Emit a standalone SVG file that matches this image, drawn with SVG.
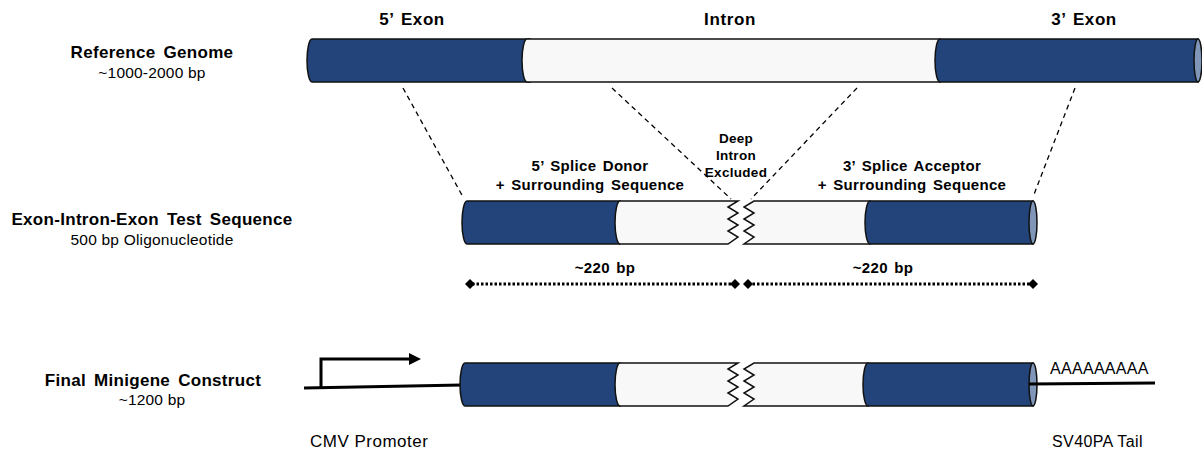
<svg xmlns="http://www.w3.org/2000/svg" width="1202" height="452" viewBox="0 0 1202 452">
<style>
.b{fill:#22447a;stroke:#111;stroke-width:1.5}
.w{fill:#f8f8f8;stroke:#111;stroke-width:1.5}
.cap{fill:#7f96b8;stroke:#111;stroke-width:1.5}
.t{font-family:"Liberation Sans",Arial,sans-serif;fill:#000}
.hd{font-weight:bold;font-size:17px;letter-spacing:0.6px;word-spacing:2px}
.h{font-weight:bold;font-size:17px;letter-spacing:0.3px;word-spacing:3px}
.s{font-size:15.5px;letter-spacing:0.2px}
.m{font-weight:bold;font-size:15px;letter-spacing:0.3px;word-spacing:2px}
.dp{font-weight:bold;font-size:13.5px;letter-spacing:0.3px}
.lb{font-size:17px;letter-spacing:0.5px}
.dash{stroke:#000;stroke-width:1.3;stroke-dasharray:5,4;fill:none}
.dot{stroke:#000;stroke-width:3;stroke-dasharray:2.5,2;fill:none}
.dm{fill:#000}
</style>
<rect width="1202" height="452" fill="#fff"/>
<g id="headers">
<text class="t hd" x="412" y="25" text-anchor="middle">5’ Exon</text>
<text class="t hd" x="730" y="25" text-anchor="middle">Intron</text>
<text class="t hd" x="1084" y="25" text-anchor="middle">3’ Exon</text>
</g>
<g id="row-labels">
<text class="t h" x="152" y="58" text-anchor="middle">Reference Genome</text>
<text class="t s" x="152" y="78" text-anchor="middle">~1000-2000 bp</text>
<text class="t h" x="152" y="225" text-anchor="middle">Exon-Intron-Exon Test Sequence</text>
<text class="t s" x="152" y="245" text-anchor="middle">500 bp Oligonucleotide</text>
<text class="t h" x="153" y="386" text-anchor="middle">Final Minigene Construct</text>
<text class="t s" x="152" y="405" text-anchor="middle">~1200 bp</text>
</g>
<g id="connectors">
<line class="dash" x1="403" y1="88" x2="463" y2="197"/>
<line class="dash" x1="612" y1="88" x2="731" y2="199"/>
<line class="dash" x1="857" y1="88" x2="751" y2="199"/>
<line class="dash" x1="1075" y1="88" x2="1033" y2="197"/>
</g>
<g id="reference-genome">
<path class="b" d="M312,39 L530,39 L530,82 L312,82 A5,21.5 0 0 1 312,39 Z"/>
<path class="w" d="M527,39 L940,39 L940,82 L527,82 A5,21.5 0 0 1 527,39 Z"/>
<path class="b" d="M940,39 L1198,39 L1198,82 L940,82 A5,21.5 0 0 1 940,39 Z"/>
<ellipse class="cap" cx="1198" cy="60.5" rx="4" ry="21.5"/>
</g>
<g id="middle-labels">
<text class="t dp" x="736" y="143" text-anchor="middle">Deep</text>
<text class="t dp" x="736" y="160" text-anchor="middle">Intron</text>
<text class="t dp" x="736" y="177" text-anchor="middle">Excluded</text>
<text class="t m" x="590" y="171" text-anchor="middle">5’ Splice Donor</text>
<text class="t m" x="590" y="190" text-anchor="middle">+ Surrounding Sequence</text>
<text class="t m" x="912" y="171" text-anchor="middle">3’ Splice Acceptor</text>
<text class="t m" x="912" y="190" text-anchor="middle">+ Surrounding Sequence</text>
</g>
<g id="test-sequence">
<path class="b" d="M467,201 L620,201 L620,244 L467,244 A5,21.5 0 0 1 467,201 Z"/>
<path class="w" d="M620,201 L738,201 L728,207 L738,213 L728,219 L738,225 L728,231 L738,237 L728,244 L620,244 A5,21.5 0 0 1 620,201 Z"/>
<path class="w" d="M870,201 L754,201 L744,207 L754,213 L744,219 L754,225 L744,231 L754,237 L744,244 L870,244 Z"/>
<path class="b" d="M870,201 L1033,201 L1033,244 L870,244 A5,21.5 0 0 1 870,201 Z"/>
<ellipse class="cap" cx="1033" cy="222.5" rx="4" ry="21.5"/>
</g>
<g id="dimensions">
<line class="dot" x1="472" y1="284" x2="734" y2="284"/>
<line class="dot" x1="748" y1="284" x2="1031" y2="284"/>
<path class="dm" d="M470,279 L475,284 L470,289 L465,284 Z"/>
<path class="dm" d="M735,279 L740,284 L735,289 L730,284 Z"/>
<path class="dm" d="M748,279 L753,284 L748,289 L743,284 Z"/>
<path class="dm" d="M1033,279 L1038,284 L1033,289 L1028,284 Z"/>
<text class="t m" x="605" y="273" text-anchor="middle">~220 bp</text>
<text class="t m" x="883" y="273" text-anchor="middle">~220 bp</text>
</g>
<g id="minigene">
<line x1="304" y1="388" x2="462" y2="385" stroke="#000" stroke-width="3"/>
<path d="M321,388 L321,359 L412,359" fill="none" stroke="#000" stroke-width="3"/>
<path d="M409,353 L421,359 L409,365 Z" fill="#000"/>
<path class="b" d="M465,363 L620,363 L620,406 L465,406 A5,21.5 0 0 1 465,363 Z"/>
<path class="w" d="M620,363 L738,363 L728,369 L738,375 L728,381 L738,387 L728,393 L738,399 L728,406 L620,406 A5,21.5 0 0 1 620,363 Z"/>
<path class="w" d="M868,363 L754,363 L744,369 L754,375 L744,381 L754,387 L744,393 L754,399 L744,406 L868,406 Z"/>
<path class="b" d="M868,363 L1033,363 L1033,406 L868,406 A5,21.5 0 0 1 868,363 Z"/>
<ellipse class="cap" cx="1033" cy="384.5" rx="4" ry="21.5"/>
<line x1="1029" y1="384" x2="1155" y2="383" stroke="#000" stroke-width="3"/>
<text class="t" font-size="16" letter-spacing="0.3" x="1050" y="374">AAAAAAAAA</text>
<text class="t lb" x="310" y="447">CMV Promoter</text>
<text class="t" font-size="16" letter-spacing="0.4" x="1052" y="447">SV40PA Tail</text>
</g>
</svg>
